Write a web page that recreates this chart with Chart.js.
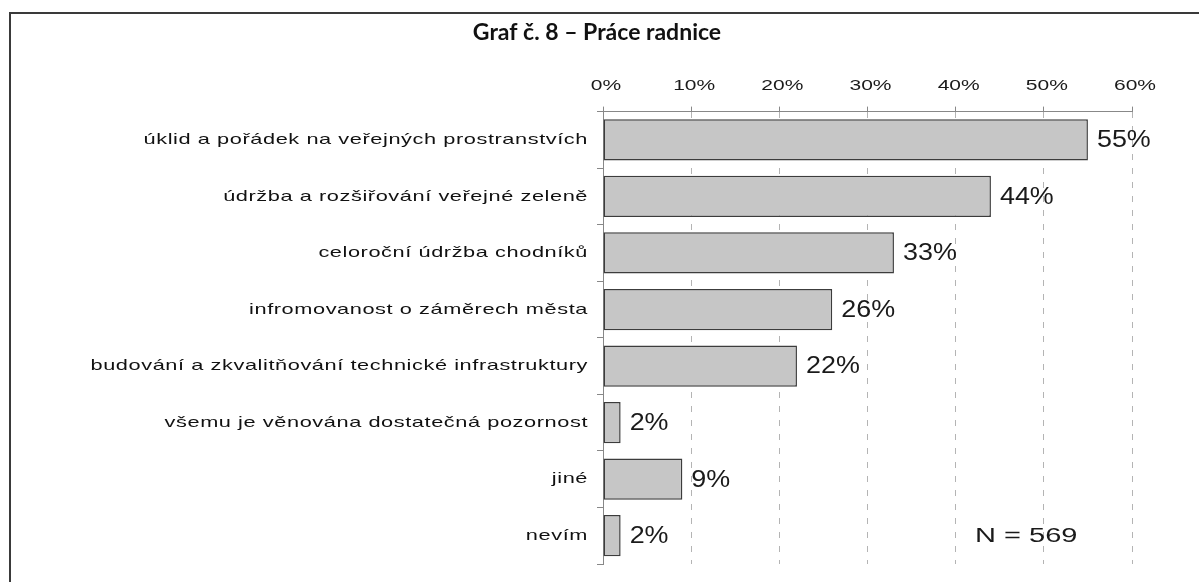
<!DOCTYPE html>
<html>
<head>
<meta charset="utf-8">
<script src="https://cdn.jsdelivr.net/npm/chart.js@4.4.1/dist/chart.umd.min.js"></script>
<style>
  html, body { margin: 0; padding: 0; background: #fff; }
  #wrap { position: relative; width: 1199px; height: 582px; overflow: hidden; }
  #frame { position: absolute; left: 9px; top: 12px; right: -5px; bottom: -5px;
           border-top: 2px solid #3a3a3a; border-left: 2px solid #3a3a3a; }
  canvas { position: absolute; left: 0; top: 0; }
</style>
</head>
<body>
<div id="wrap">
  <canvas id="chart" width="1199" height="582"></canvas>
  <div id="frame"></div>
</div>
<script>
// chart data
const chartTitle = "Graf č. 8 – Práce radnice";
const categories = [
  "úklid a pořádek na veřejných prostranstvích",
  "údržba a rozšiřování veřejné zeleně",
  "celoroční údržba chodníků",
  "infromovanost o záměrech města",
  "budování a zkvalitňování technické infrastruktury",
  "všemu je věnována dostatečná pozornost",
  "jiné",
  "nevím"
];
const values = [55, 44, 33, 26, 22, 2, 9, 2]; // percent
const axisMax = 60;
const axisStep = 10;
const noteText = "N = 569";
const noteAt = 48; // x value the note is centred on (last row)

const FONT = '"Liberation Sans", Arial, sans-serif';

// the original text is horizontally stretched, so draw it scaled
function stretchedText(ctx, text, x, y, sx, align) {
  ctx.save();
  ctx.translate(x, y);
  ctx.scale(sx, 1);
  ctx.textAlign = align;
  ctx.fillText(text, 0, 0);
  ctx.restore();
}

const textPlugin = {
  id: "textPlugin",
  afterDatasetsDraw(chart) {
    const { ctx, scales: { x, y } } = chart;
    ctx.save();
    ctx.fillStyle = "#1a1a1a";

    // x tick labels (top axis)
    ctx.font = "15px " + FONT;
    ctx.textBaseline = "alphabetic";
    x.ticks.forEach(t => {
      stretchedText(ctx, t.label, x.getPixelForValue(t.value) + 3, x.bottom - 22, 1.4, "center");
    });

    // value labels right of the bars
    ctx.font = "23px " + FONT;
    ctx.textBaseline = "middle";
    chart.getDatasetMeta(0).data.forEach((bar, i) => {
      stretchedText(ctx, values[i] + "%", bar.x + 9, bar.y + 1, 1.17, "left");
    });

    // sample size note
    ctx.font = "20px " + FONT;
    stretchedText(ctx, noteText, x.getPixelForValue(noteAt), y.getPixelForValue(categories.length - 1) + 1, 1.45, "center");
    ctx.restore();

    // y labels are drawn in the next layer (ticks z = 1): stretch them around their right edge
    const ax = y.right - 15;
    ctx.save();
    ctx.letterSpacing = "0.4px";
    ctx.translate(ax, 0);
    ctx.scale(1.45, 1);
    ctx.translate(-ax, 0);
  },
  afterDraw(chart) {
    chart.ctx.restore();
  }
};

new Chart(document.getElementById("chart"), {
  type: "bar",
  plugins: [textPlugin],
  data: {
    labels: categories,
    datasets: [{
      data: values,
      backgroundColor: "#c6c6c6",
      borderColor: "#3c3c3c",
      borderWidth: 1.5,
      borderSkipped: false,
      barPercentage: 0.73,
      categoryPercentage: 1
    }]
  },
  options: {
    indexAxis: "y",
    responsive: false,
    animation: false,
    layout: { padding: { left: 62, right: 67, top: 0, bottom: 13 } },
    plugins: {
      legend: { display: false },
      tooltip: { enabled: false },
      title: {
        display: true,
        text: chartTitle,
        color: "#111",
        font: { family: "Lato", weight: "bold", size: 23 },
        padding: { top: 19, bottom: 5 }
      }
    },
    scales: {
      x: {
        position: "top",
        min: 0,
        max: axisMax,
        afterFit: s => { s.height = 60; },
        ticks: {
          stepSize: axisStep,
          display: false,
          callback: v => v + "%"
        },
        grid: {
          color: "#b4b4b4",
          lineWidth: 1,
          drawTicks: true,
          tickLength: 5,
          tickColor: "#888",
          tickBorderDash: []
        },
        border: { color: "#888", width: 1, dash: [6, 8] }
      },
      y: {
        afterFit: s => { s.width = 541; },
        ticks: {
          color: "#111",
          font: { family: "Liberation Sans", size: 15 },
          padding: 9,
          z: 1
        },
        grid: {
          drawOnChartArea: false,
          drawTicks: true,
          tickLength: 6,
          color: "#888",
          tickColor: "#888"
        },
        border: { color: "#888", width: 1 }
      }
    }
  }
});
</script>
</body>
</html>
